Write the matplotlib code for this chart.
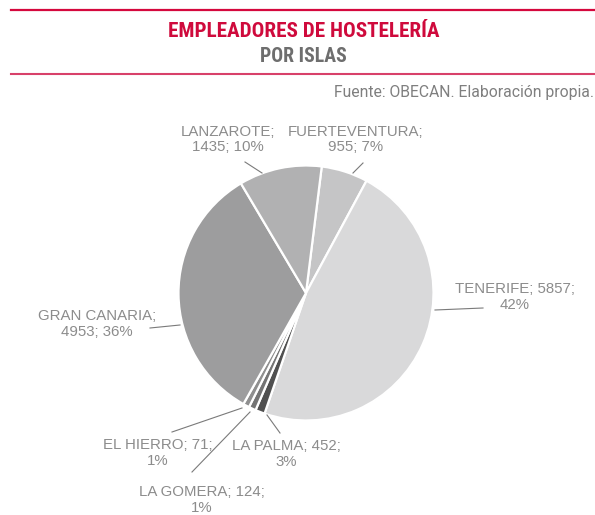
import numpy as np
import matplotlib.pyplot as plt
from matplotlib.lines import Line2D

islands = ["FUERTEVENTURA", "TENERIFE", "LA PALMA", "LA GOMERA", "EL HIERRO", "GRAN CANARIA", "LANZAROTE"]
employers = [955, 5857, 452, 124, 71, 4953, 1435]
pct_label = [7, 42, 3, 1, 1, 36, 10]
slice_share = [5.9, 47.4, 1.2, 0.9, 0.8, 33.3, 10.5]
colors = ["#c5c5c6", "#d9d9da", "#505050", "#747474", "#8f8f8f", "#9d9d9e", "#b1b1b2"]

W, H = 595, 515
fig = plt.figure(figsize=(W / 100, H / 100), dpi=100)
ax = fig.add_axes([0, 0, 1, 1])

cx, cy, r = 306, H - 293, 127.5
ax.pie(slice_share, colors=colors, startangle=90 - 7.1, counterclock=False,
       center=(cx, cy), radius=r,
       wedgeprops=dict(edgecolor="white", linewidth=1.6))
ax.set_xlim(0, W)
ax.set_ylim(0, H)
ax.set_aspect("auto")
ax.axis("off")

lab_font = ["Liberation Sans", "DejaVu Sans"]
txt_col = "#8c8c8c"

# label layout (pixel coords from the top): text centre, leader start, leader end
layout = {
    "LANZAROTE":     ((228, 139.5), (245, 162), (262, 173)),
    "FUERTEVENTURA": ((356, 139.5), (363, 163), (353, 173)),
    "TENERIFE":      ((515, 297), (483, 308), (435, 310)),
    "GRAN CANARIA":  ((97, 324), (150, 328), (180, 325)),
    "EL HIERRO":     ((158, 453), (172, 432), (242, 408)),
    "LA PALMA":      ((286, 454), (280, 433), (267, 415)),
    "LA GOMERA":     ((202, 500), (192, 472), (250, 412)),
}
two_words = {"TENERIFE", "EL HIERRO", "LA PALMA", "LA GOMERA"}

for name, n, p in zip(islands, employers, pct_label):
    (tx, ty), (x0, y0), (x1, y1) = layout[name]
    if name in two_words:
        s = f"{name}; {n};\n{p}%"
    else:
        s = f"{name};\n{n}; {p}%"
    ax.text(tx, H - ty, s, ha="center", va="center", multialignment="center",
            fontsize=10.8, color=txt_col, family=lab_font, linespacing=1.13)
    ax.plot([x0, x1], [H - y0, H - y1], color="#7a7a7a", lw=0.8)

# header
fig.add_artist(Line2D([11 / W, 1], [1 - 10 / H] * 2, color="#d5083d", lw=1.6,
                      transform=fig.transFigure))
fig.add_artist(Line2D([11 / W, 1], [1 - 73.7 / H] * 2, color="#d8416a", lw=1.5,
                      transform=fig.transFigure))
title_font = ["Liberation Sans Narrow", "DejaVu Sans Condensed", "Roboto Condensed", "Liberation Sans"]
fig.text(303.5 / W, 1 - 36.7 / H, "EMPLEADORES DE HOSTELERÍA", ha="center", va="baseline",
         fontsize=15.2, fontweight="bold", color="#cf0a3c", family=title_font)
fig.text(303 / W, 1 - 62 / H, "POR ISLAS", ha="center", va="baseline",
         fontsize=14.2, fontweight="bold", color="#6e6e6e", family=title_font)
fig.text(594 / W, 1 - 97.3 / H, "Fuente: OBECAN. Elaboración propia.", ha="right",
         va="baseline", fontsize=11.3, color="#7f7f7f", family=["Roboto", "DejaVu Sans"])

fig.savefig("out.png", dpi=100)
